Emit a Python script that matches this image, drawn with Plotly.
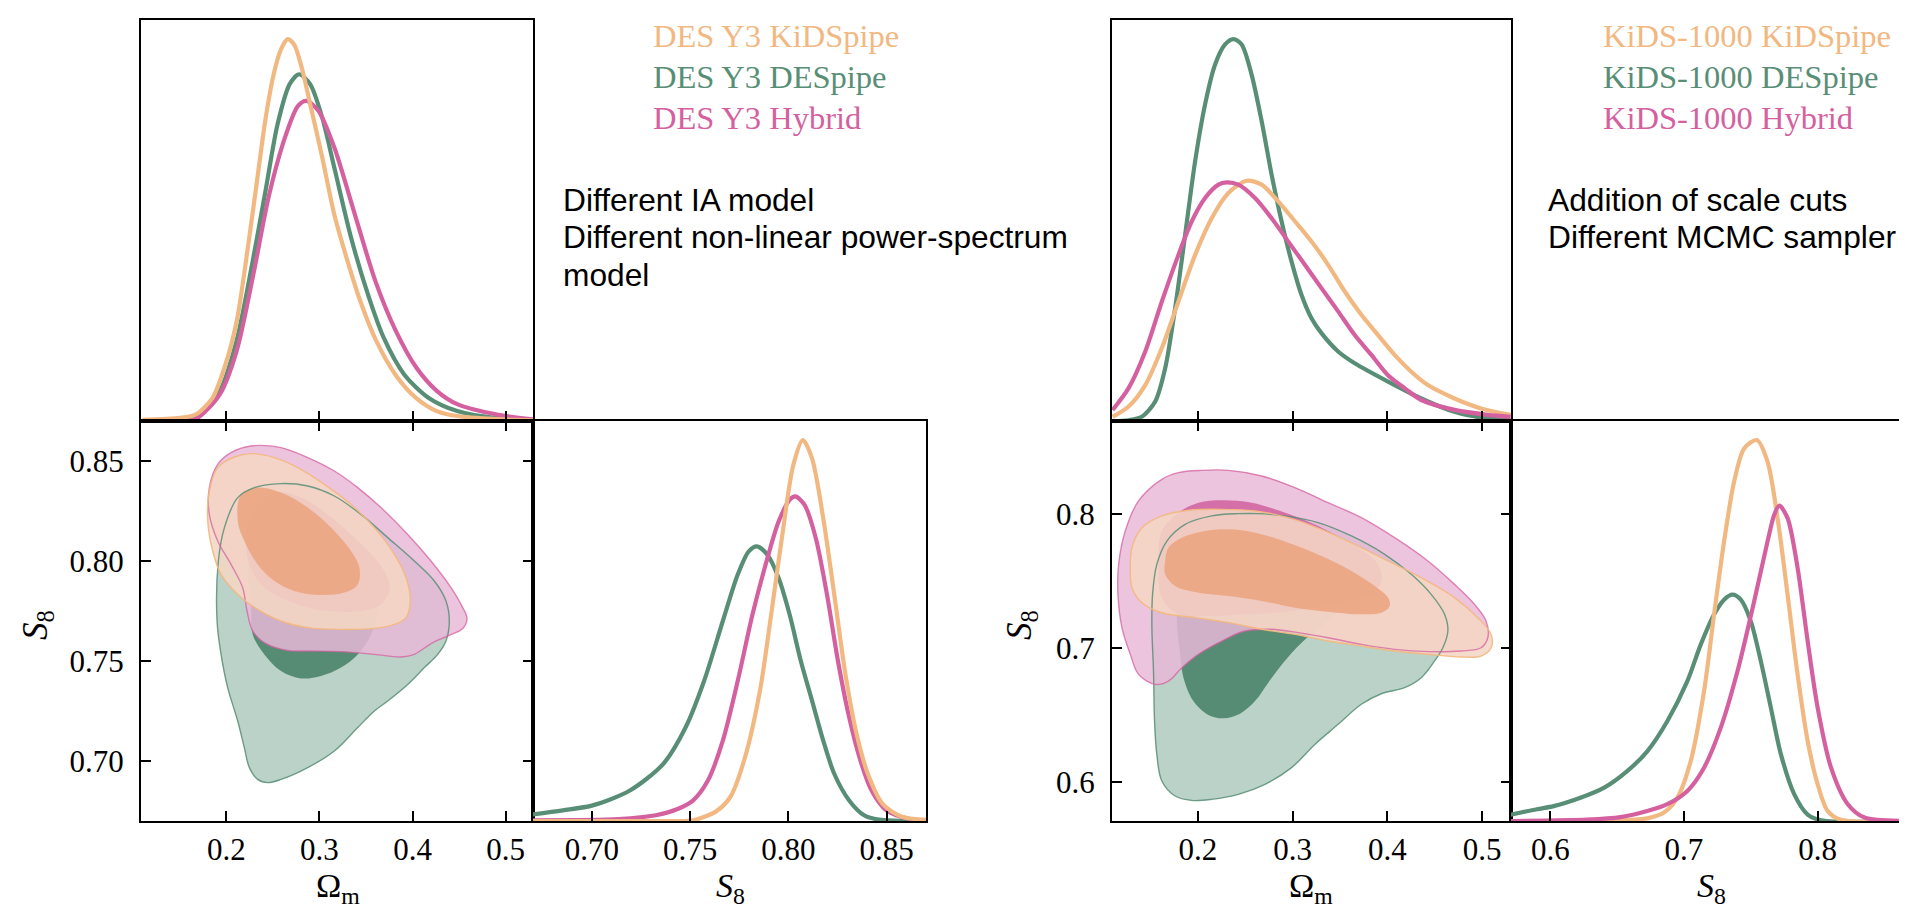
import plotly.graph_objects as go

# ---------------- DATA ----------------
# DES Y3 : 1D Omega_m posteriors (normalised heights)
des_om_kids_x = [0.110, 0.150, 0.167, 0.185, 0.198, 0.211, 0.224, 0.233, 0.242, 0.251, 0.259, 0.266, 0.273, 0.281, 0.290, 0.303, 0.316, 0.330, 0.343, 0.360, 0.382, 0.404, 0.426, 0.448, 0.492, 0.530]
des_om_kids_y = [0.003, 0.008, 0.017, 0.06, 0.14, 0.26, 0.47, 0.63, 0.79, 0.91, 0.975, 1.0, 0.985, 0.925, 0.83, 0.69, 0.54, 0.42, 0.32, 0.215, 0.12, 0.06, 0.026, 0.013, 0.005, 0.002]
des_om_des_x = [0.110, 0.150, 0.167, 0.193, 0.211, 0.229, 0.242, 0.255, 0.268, 0.278, 0.290, 0.303, 0.316, 0.334, 0.352, 0.369, 0.391, 0.417, 0.448, 0.492, 0.530]
des_om_des_y = [0.0, 0.002, 0.006, 0.079, 0.21, 0.428, 0.602, 0.777, 0.882, 0.908, 0.882, 0.794, 0.663, 0.48, 0.332, 0.218, 0.122, 0.061, 0.026, 0.007, 0.003]
des_om_hyb_x = [0.110, 0.150, 0.167, 0.193, 0.211, 0.229, 0.246, 0.264, 0.277, 0.286, 0.299, 0.316, 0.338, 0.360, 0.382, 0.404, 0.426, 0.448, 0.492, 0.530]
des_om_hyb_y = [0.0, 0.002, 0.005, 0.07, 0.183, 0.384, 0.593, 0.75, 0.825, 0.838, 0.812, 0.716, 0.541, 0.367, 0.236, 0.14, 0.079, 0.044, 0.016, 0.004]

# DES Y3 : 1D S8 posteriors
des_s8_kids_x = [0.670, 0.740, 0.7515, 0.7628, 0.7704, 0.7779, 0.7855, 0.7912, 0.7969, 0.8025, 0.8073, 0.812, 0.8177, 0.8233, 0.829, 0.8347, 0.8404, 0.8479, 0.8574, 0.870]
des_s8_kids_y = [0.0, 0.0, 0.002, 0.024, 0.063, 0.167, 0.342, 0.542, 0.752, 0.935, 1.0, 0.952, 0.795, 0.595, 0.385, 0.228, 0.124, 0.045, 0.012, 0.003]
des_s8_des_x = [0.6697, 0.6852, 0.7004, 0.7193, 0.7363, 0.7477, 0.7571, 0.7666, 0.7742, 0.7798, 0.784, 0.7893, 0.795, 0.8006, 0.8063, 0.812, 0.8177, 0.8233, 0.8309, 0.8385, 0.846, 0.870]
des_s8_des_y = [0.0174, 0.028, 0.041, 0.080, 0.150, 0.246, 0.368, 0.525, 0.647, 0.708, 0.721, 0.699, 0.638, 0.542, 0.420, 0.316, 0.211, 0.124, 0.054, 0.015, 0.0035, 0.0]
des_s8_hyb_x = [0.6697, 0.7136, 0.7325, 0.7439, 0.7515, 0.759, 0.7666, 0.7742, 0.7817, 0.7893, 0.795, 0.8006, 0.8035, 0.8082, 0.8139, 0.8196, 0.8252, 0.8309, 0.8366, 0.8423, 0.8498, 0.8612, 0.8703]
des_s8_hyb_y = [0.002, 0.005, 0.015, 0.032, 0.054, 0.106, 0.211, 0.368, 0.542, 0.690, 0.786, 0.843, 0.852, 0.830, 0.743, 0.595, 0.420, 0.272, 0.159, 0.080, 0.028, 0.006, 0.002]

# DES Y3 : 2D contours (Omega_m, S8), outer = 95%, inner = 68%
des_des_outer_om = [0.1900, 0.1914, 0.1979, 0.2122, 0.2301, 0.2587, 0.2874, 0.3160, 0.3446, 0.3733, 0.4019, 0.4234, 0.4359, 0.4395, 0.4359, 0.4270, 0.4127, 0.3948, 0.3733, 0.3590, 0.3411, 0.3160, 0.2874, 0.2587, 0.2444, 0.2337, 0.2247, 0.2193, 0.2122, 0.2014, 0.1943]
des_des_outer_s8 = [0.7700, 0.8000, 0.8167, 0.8317, 0.8367, 0.8387, 0.8375, 0.8325, 0.8233, 0.8117, 0.8000, 0.7900, 0.7800, 0.7700, 0.7600, 0.7533, 0.7467, 0.7383, 0.7300, 0.7250, 0.7167, 0.7050, 0.6967, 0.6908, 0.6892, 0.6908, 0.6967, 0.7067, 0.7200, 0.7367, 0.7533]
des_des_inner_om = [0.2229, 0.2265, 0.2283, 0.2408, 0.2587, 0.2802, 0.3017, 0.3232, 0.3411, 0.3554, 0.3626, 0.3590, 0.3446, 0.3232, 0.2945, 0.2659, 0.2408, 0.2265]
des_des_inner_s8 = [0.7950, 0.7767, 0.7633, 0.7533, 0.7450, 0.7413, 0.7425, 0.7467, 0.7533, 0.7633, 0.7767, 0.7917, 0.8050, 0.8167, 0.8250, 0.8283, 0.8250, 0.8133]
des_hyb_outer_om = [0.2265, 0.2587, 0.2874, 0.3160, 0.3411, 0.3661, 0.3948, 0.4198, 0.4413, 0.4539, 0.4585, 0.4539, 0.4377, 0.4198, 0.4019, 0.3876, 0.3590, 0.3232, 0.2874, 0.2659, 0.2426, 0.2283, 0.2222, 0.2175, 0.2050, 0.1907, 0.1817, 0.1817, 0.1907, 0.2050]
des_hyb_outer_s8 = [0.8575, 0.8567, 0.8517, 0.8450, 0.8367, 0.8267, 0.8133, 0.8000, 0.7867, 0.7767, 0.7713, 0.7663, 0.7625, 0.7587, 0.7533, 0.7520, 0.7533, 0.7547, 0.7550, 0.7553, 0.7587, 0.7650, 0.7750, 0.7867, 0.7983, 0.8100, 0.8233, 0.8367, 0.8483, 0.8542]
des_hyb_inner_om = [0.2211, 0.2265, 0.2516, 0.2802, 0.3088, 0.3375, 0.3590, 0.3733, 0.3751, 0.3661, 0.3446, 0.3160, 0.2874, 0.2587, 0.2372, 0.2247]
des_hyb_inner_s8 = [0.8100, 0.8233, 0.8342, 0.8317, 0.8233, 0.8117, 0.8017, 0.7917, 0.7850, 0.7783, 0.7750, 0.7747, 0.7767, 0.7817, 0.7883, 0.7983]
des_kids_outer_om = [0.1817, 0.1907, 0.2086, 0.2265, 0.2516, 0.2766, 0.3053, 0.3339, 0.3590, 0.3805, 0.3930, 0.3976, 0.3930, 0.3805, 0.3590, 0.3232, 0.2874, 0.2587, 0.2337, 0.2122, 0.1943, 0.1853, 0.1800]
des_kids_outer_s8 = [0.8350, 0.8467, 0.8520, 0.8537, 0.8517, 0.8467, 0.8383, 0.8283, 0.8167, 0.8033, 0.7917, 0.7800, 0.7717, 0.7683, 0.7663, 0.7658, 0.7667, 0.7700, 0.7758, 0.7833, 0.7933, 0.8050, 0.8200]
des_kids_inner_om = [0.2122, 0.2158, 0.2337, 0.2587, 0.2874, 0.3124, 0.3339, 0.3429, 0.3411, 0.3267, 0.3017, 0.2730, 0.2516, 0.2337, 0.2193]
des_kids_inner_s8 = [0.8200, 0.8333, 0.8367, 0.8342, 0.8267, 0.8167, 0.8050, 0.7967, 0.7883, 0.7842, 0.7830, 0.7850, 0.7900, 0.7983, 0.8100]

# KiDS-1000 : 1D Omega_m posteriors
kids_om_des_x = [0.1102, 0.127, 0.141, 0.1551, 0.1656, 0.1761, 0.1867, 0.1972, 0.2077, 0.2182, 0.2288, 0.2375, 0.2463, 0.2568, 0.2674, 0.2779, 0.2884, 0.2989, 0.3095, 0.32, 0.3305, 0.3481, 0.3656, 0.4007, 0.4358, 0.4709, 0.4989, 0.5302]
kids_om_des_y = [0.0, 0.002, 0.011, 0.051, 0.138, 0.295, 0.488, 0.68, 0.829, 0.933, 0.986, 1.0, 0.986, 0.907, 0.785, 0.645, 0.523, 0.418, 0.33, 0.269, 0.23, 0.182, 0.151, 0.103, 0.059, 0.024, 0.009, 0.002]
kids_om_hyb_x = [0.1102, 0.127, 0.1446, 0.1621, 0.1796, 0.1937, 0.2077, 0.2218, 0.2305, 0.2428, 0.2604, 0.2779, 0.2954, 0.313, 0.3305, 0.3481, 0.3656, 0.3832, 0.4007, 0.4182, 0.4358, 0.4709, 0.506, 0.5302]
kids_om_hyb_y = [0.029, 0.086, 0.182, 0.313, 0.435, 0.523, 0.584, 0.619, 0.625, 0.619, 0.584, 0.531, 0.470, 0.409, 0.348, 0.287, 0.225, 0.173, 0.120, 0.086, 0.055, 0.029, 0.016, 0.011]
kids_om_kids_x = [0.1102, 0.127, 0.1446, 0.1621, 0.1796, 0.1972, 0.2147, 0.2323, 0.2516, 0.2674, 0.2849, 0.3025, 0.32, 0.3375, 0.3551, 0.3726, 0.3902, 0.4077, 0.4253, 0.4428, 0.4709, 0.4989, 0.5302]
kids_om_kids_y = [0.011, 0.038, 0.094, 0.191, 0.313, 0.435, 0.531, 0.597, 0.629, 0.619, 0.575, 0.523, 0.470, 0.409, 0.339, 0.278, 0.225, 0.173, 0.129, 0.094, 0.059, 0.033, 0.016]

# KiDS-1000 : 1D S8 posteriors
kids_s8_kids_x = [0.5695, 0.6525, 0.6725, 0.685, 0.695, 0.705, 0.715, 0.7225, 0.73, 0.7375, 0.745, 0.7545, 0.7625, 0.77, 0.7775, 0.785, 0.7925, 0.80, 0.8075, 0.8175, 0.87]
kids_s8_kids_y = [0.0, 0.002, 0.007, 0.022, 0.061, 0.157, 0.341, 0.542, 0.734, 0.891, 0.978, 1.0, 0.943, 0.795, 0.594, 0.384, 0.210, 0.096, 0.026, 0.003, 0.0]
kids_s8_hyb_x = [0.5695, 0.6275, 0.6525, 0.6725, 0.6875, 0.7025, 0.715, 0.7275, 0.74, 0.7525, 0.7625, 0.7675, 0.7713, 0.7775, 0.785, 0.7925, 0.80, 0.81, 0.8225, 0.835, 0.87]
kids_s8_hyb_y = [0.0, 0.0035, 0.010, 0.026, 0.044, 0.079, 0.140, 0.245, 0.393, 0.577, 0.734, 0.804, 0.828, 0.795, 0.664, 0.472, 0.297, 0.140, 0.044, 0.009, 0.0]
kids_s8_des_x = [0.5695, 0.59, 0.6025, 0.6225, 0.64, 0.6575, 0.6725, 0.6875, 0.7025, 0.7125, 0.7225, 0.73, 0.7363, 0.7425, 0.75, 0.7575, 0.765, 0.7725, 0.7825, 0.7925, 0.8025, 0.87]
kids_s8_des_y = [0.016, 0.031, 0.039, 0.061, 0.087, 0.131, 0.183, 0.262, 0.367, 0.463, 0.542, 0.581, 0.594, 0.581, 0.524, 0.419, 0.297, 0.175, 0.070, 0.017, 0.002, 0.0]

# KiDS-1000 : 2D contours
kids_des_outer_om = [0.2147, 0.2428, 0.2639, 0.2919, 0.3270, 0.3621, 0.3972, 0.4253, 0.4463, 0.4604, 0.4639, 0.4586, 0.4498, 0.4358, 0.4182, 0.3937, 0.3726, 0.3481, 0.3235, 0.2989, 0.2709, 0.2428, 0.2147, 0.1937, 0.1761, 0.1621, 0.1568, 0.1544, 0.1533, 0.1516, 0.1523, 0.1568, 0.1674, 0.1867]
kids_des_outer_s8 = [0.7988, 0.8005, 0.8005, 0.7988, 0.7938, 0.7838, 0.7701, 0.7551, 0.7401, 0.7252, 0.7127, 0.7002, 0.6903, 0.6778, 0.6703, 0.6658, 0.6579, 0.6429, 0.6279, 0.6105, 0.5980, 0.5905, 0.5868, 0.5860, 0.5893, 0.6005, 0.6204, 0.6454, 0.6828, 0.7152, 0.7401, 0.7626, 0.7800, 0.7925]
kids_des_inner_om = [0.1779, 0.1814, 0.1849, 0.1954, 0.2112, 0.2270, 0.2446, 0.2604, 0.2744, 0.2902, 0.3095, 0.3305, 0.3481, 0.3551, 0.3481, 0.3270, 0.2919, 0.2498, 0.2147, 0.1902, 0.1796]
kids_des_inner_s8 = [0.7202, 0.6953, 0.6778, 0.6603, 0.6499, 0.6474, 0.6509, 0.6603, 0.6741, 0.6890, 0.7040, 0.7165, 0.7277, 0.7426, 0.7576, 0.7701, 0.7776, 0.7788, 0.7751, 0.7626, 0.7426]
kids_hyb_outer_om = [0.2042, 0.2323, 0.2674, 0.3025, 0.3375, 0.3726, 0.4077, 0.4428, 0.4709, 0.4919, 0.5042, 0.5060, 0.4989, 0.4779, 0.4428, 0.4077, 0.3726, 0.3375, 0.3060, 0.2779, 0.2498, 0.2253, 0.2007, 0.1832, 0.1691, 0.1551, 0.1375, 0.1288, 0.1200, 0.1158, 0.1165, 0.1235, 0.1375, 0.1621, 0.1796]
kids_hyb_outer_s8 = [0.8329, 0.8329, 0.8287, 0.8200, 0.8087, 0.7975, 0.7825, 0.7651, 0.7476, 0.7327, 0.7202, 0.7077, 0.7002, 0.6978, 0.6973, 0.6990, 0.7027, 0.7077, 0.7115, 0.7140, 0.7127, 0.7052, 0.6953, 0.6853, 0.6753, 0.6728, 0.6803, 0.6953, 0.7152, 0.7401, 0.7626, 0.7875, 0.8100, 0.8262, 0.8312]
kids_hyb_inner_om = [0.1586, 0.1621, 0.1796, 0.2007, 0.2253, 0.2568, 0.2849, 0.3130, 0.3411, 0.3691, 0.3902, 0.3937, 0.3832, 0.3551, 0.3200, 0.2849, 0.2498, 0.2147, 0.1796, 0.1621]
kids_hyb_inner_s8 = [0.7651, 0.7875, 0.8012, 0.8087, 0.8105, 0.8087, 0.8030, 0.7955, 0.7863, 0.7751, 0.7626, 0.7501, 0.7401, 0.7352, 0.7302, 0.7264, 0.7252, 0.7239, 0.7252, 0.7377]
kids_kids_outer_om = [0.1288, 0.1305, 0.1411, 0.1621, 0.1902, 0.2253, 0.2604, 0.2954, 0.3305, 0.3656, 0.4007, 0.4358, 0.4709, 0.4954, 0.5095, 0.5095, 0.4989, 0.4779, 0.4428, 0.4077, 0.3726, 0.3375, 0.3025, 0.2674, 0.2323, 0.1972, 0.1621, 0.1411, 0.1305]
kids_kids_outer_s8 = [0.7601, 0.7751, 0.7900, 0.7988, 0.8030, 0.8037, 0.8025, 0.7975, 0.7888, 0.7776, 0.7651, 0.7526, 0.7377, 0.7227, 0.7102, 0.7002, 0.6940, 0.6933, 0.6953, 0.6978, 0.7015, 0.7052, 0.7102, 0.7140, 0.7190, 0.7227, 0.7264, 0.7339, 0.7451]
kids_kids_inner_om = [0.1656, 0.1691, 0.1832, 0.2077, 0.2323, 0.2604, 0.2954, 0.3305, 0.3621, 0.3867, 0.4007, 0.4025, 0.3937, 0.3726, 0.3375, 0.3025, 0.2674, 0.2323, 0.2007, 0.1761, 0.1656]
kids_kids_inner_s8 = [0.7651, 0.7751, 0.7825, 0.7875, 0.7888, 0.7863, 0.7788, 0.7688, 0.7576, 0.7464, 0.7377, 0.7314, 0.7264, 0.7252, 0.7272, 0.7302, 0.7352, 0.7389, 0.7414, 0.7464, 0.7551]

# axis ranges and ticks
om_range_des = [0.1083, 0.5294]
s8_range_des = [0.670, 0.870]
om_range_kids = [0.1095, 0.5305]
s8_range_kids = [0.5706, 0.8698]
om_ticks = [0.2, 0.3, 0.4, 0.5]
om_ticktext = ["0.2", "0.3", "0.4", "0.5"]
s8_ticks_des = [0.70, 0.75, 0.80, 0.85]
s8_ticktext_des = ["0.70", "0.75", "0.80", "0.85"]
s8_ticks_kids = [0.6, 0.7, 0.8]
s8_ticktext_kids = ["0.6", "0.7", "0.8"]
pdf_range = [0, 1.05]

labels_des = ["DES Y3 KiDSpipe", "DES Y3 DESpipe", "DES Y3 Hybrid"]
labels_kids = ["KiDS-1000 KiDSpipe", "KiDS-1000 DESpipe", "KiDS-1000 Hybrid"]
notes_des = ["Different IA model", "Different non-linear power-spectrum", "model"]
notes_kids = ["Addition of scale cuts", "Different MCMC sampler"]

# ---------------- STYLE ----------------
C_KIDS = "rgb(242,184,130)"
C_DES = "rgb(88,142,118)"
C_HYB = "rgb(213,96,160)"
FILL = {
    "des_outer": "rgba(88,146,120,0.41)",
    "des_inner": "rgba(87,140,116,1.0)",
    "hyb_outer": "rgba(232,185,216,0.84)",
    "hyb_inner": "rgba(210,102,162,0.90)",
    "kids_outer": "rgba(244,214,196,0.88)",
    "kids_inner": "rgba(235,165,130,0.90)",
}
EDGE = {
    "des": "rgba(88,142,118,0.85)",
    "hyb": "rgba(213,96,160,0.75)",
    "kids": "rgba(242,184,130,0.95)",
}

W, H = 1907, 907
def fx(p):
    return p / W
def fy(p):
    return 1 - p / H

# panel pixel edges
LX = [133, 525, 918]
RX = [1104, 1503, 1903]
YT, YM, YB = 12, 413, 813

fig = go.Figure()

def line1d(x, y, color, xa, ya):
    fig.add_trace(go.Scatter(x=x, y=y, mode="lines", xaxis=xa, yaxis=ya,
                             line=dict(color=color, width=4.2, shape="spline", smoothing=0.8),
                             hoverinfo="skip", showlegend=False))

def closed(a):
    return list(a) + [a[0]]

def fill2d(x, y, color, xa, ya):
    fig.add_trace(go.Scatter(x=closed(x), y=closed(y), mode="lines", fill="toself",
                             fillcolor=color, xaxis=xa, yaxis=ya,
                             line=dict(width=0, shape="spline", smoothing=1.0, color=color),
                             hoverinfo="skip", showlegend=False))

def edge2d(x, y, color, xa, ya):
    fig.add_trace(go.Scatter(x=closed(x), y=closed(y), mode="lines", xaxis=xa, yaxis=ya,
                             line=dict(width=1.4, shape="spline", smoothing=1.0, color=color),
                             hoverinfo="skip", showlegend=False))

# ----- DES Y3 triangle -----
line1d(des_om_des_x, des_om_des_y, C_DES, "x", "y")
line1d(des_om_hyb_x, des_om_hyb_y, C_HYB, "x", "y")
line1d(des_om_kids_x, des_om_kids_y, C_KIDS, "x", "y")

fill2d(des_des_outer_om, des_des_outer_s8, FILL["des_outer"], "x2", "y2")
fill2d(des_des_inner_om, des_des_inner_s8, FILL["des_inner"], "x2", "y2")
fill2d(des_hyb_outer_om, des_hyb_outer_s8, FILL["hyb_outer"], "x2", "y2")
fill2d(des_hyb_inner_om, des_hyb_inner_s8, FILL["hyb_inner"], "x2", "y2")
fill2d(des_kids_outer_om, des_kids_outer_s8, FILL["kids_outer"], "x2", "y2")
fill2d(des_kids_inner_om, des_kids_inner_s8, FILL["kids_inner"], "x2", "y2")
edge2d(des_des_outer_om, des_des_outer_s8, EDGE["des"], "x2", "y2")
edge2d(des_hyb_outer_om, des_hyb_outer_s8, EDGE["hyb"], "x2", "y2")
edge2d(des_kids_outer_om, des_kids_outer_s8, EDGE["kids"], "x2", "y2")

line1d(des_s8_des_x, des_s8_des_y, C_DES, "x3", "y3")
line1d(des_s8_hyb_x, des_s8_hyb_y, C_HYB, "x3", "y3")
line1d(des_s8_kids_x, des_s8_kids_y, C_KIDS, "x3", "y3")

# ----- KiDS-1000 triangle -----
line1d(kids_om_des_x, kids_om_des_y, C_DES, "x4", "y4")
line1d(kids_om_kids_x, kids_om_kids_y, C_KIDS, "x4", "y4")
line1d(kids_om_hyb_x, kids_om_hyb_y, C_HYB, "x4", "y4")

fill2d(kids_des_outer_om, kids_des_outer_s8, FILL["des_outer"], "x5", "y5")
fill2d(kids_des_inner_om, kids_des_inner_s8, FILL["des_inner"], "x5", "y5")
fill2d(kids_hyb_outer_om, kids_hyb_outer_s8, FILL["hyb_outer"], "x5", "y5")
fill2d(kids_hyb_inner_om, kids_hyb_inner_s8, FILL["hyb_inner"], "x5", "y5")
fill2d(kids_kids_outer_om, kids_kids_outer_s8, FILL["kids_outer"], "x5", "y5")
fill2d(kids_kids_inner_om, kids_kids_inner_s8, FILL["kids_inner"], "x5", "y5")
edge2d(kids_des_outer_om, kids_des_outer_s8, EDGE["des"], "x5", "y5")
edge2d(kids_hyb_outer_om, kids_hyb_outer_s8, EDGE["hyb"], "x5", "y5")
edge2d(kids_kids_outer_om, kids_kids_outer_s8, EDGE["kids"], "x5", "y5")

line1d(kids_s8_des_x, kids_s8_des_y, C_DES, "x6", "y6")
line1d(kids_s8_kids_x, kids_s8_kids_y, C_KIDS, "x6", "y6")
line1d(kids_s8_hyb_x, kids_s8_hyb_y, C_HYB, "x6", "y6")

# ---------------- AXES ----------------
TICKFONT = dict(family="Liberation Serif", size=31, color="black")

def axis(domain, rng, anchor, tickvals=None, ticktext=None, labels=False, ticks="", mirror=True, standoff=0):
    d = dict(domain=domain, range=rng, anchor=anchor, showline=True, linecolor="black", linewidth=2,
             mirror=mirror, showgrid=False, zeroline=False, ticks=ticks, ticklen=10, tickwidth=2,
             tickcolor="black", showticklabels=labels, tickfont=TICKFONT, fixedrange=True)
    if tickvals is not None:
        d["tickmode"] = "array"
        d["tickvals"] = tickvals
        if labels:
            d["ticktext"] = ticktext
    else:
        d["tickmode"] = "array"
        d["tickvals"] = []
    if labels:
        d["ticklabelstandoff"] = standoff
    return d

top_dom = [fy(YM), fy(YT)]
bot_dom = [fy(YB), fy(YM)]
L1 = [fx(LX[0]), fx(LX[1])]
L2 = [fx(LX[1]), fx(LX[2])]
R1 = [fx(RX[0]), fx(RX[1])]
R2 = [fx(RX[1]), fx(RX[2])]

layout_axes = dict(
    xaxis=axis(L1, om_range_des, "y", om_ticks, None, False, "inside", True),
    yaxis=axis(top_dom, pdf_range, "x"),
    xaxis2=axis(L1, om_range_des, "y2", om_ticks, om_ticktext, True, "inside", "ticks", 0),
    yaxis2=axis(bot_dom, s8_range_des, "x2", s8_ticks_des, s8_ticktext_des, True, "inside", "ticks", 9),
    xaxis3=axis(L2, s8_range_des, "y3", s8_ticks_des, s8_ticktext_des, True, "inside", True, 0),
    yaxis3=axis(bot_dom, pdf_range, "x3"),
    xaxis4=axis(R1, om_range_kids, "y4", om_ticks, None, False, "inside", True),
    yaxis4=axis(top_dom, pdf_range, "x4"),
    xaxis5=axis(R1, om_range_kids, "y5", om_ticks, om_ticktext, True, "inside", "ticks", 0),
    yaxis5=axis(bot_dom, s8_range_kids, "x5", s8_ticks_kids, s8_ticktext_kids, True, "inside", "ticks", 9),
    xaxis6=axis(R2, s8_range_kids, "y6", s8_ticks_kids, s8_ticktext_kids, True, "inside", True, 0),
    yaxis6=axis(bot_dom, pdf_range, "x6"),
)

# ---------------- TEXT ----------------
ann = []
def text(t, x, y, size, family, color, xanchor="left", angle=0):
    ann.append(dict(text=t, x=fx(x), y=fy(y), xref="paper", yref="paper", showarrow=False,
                    xanchor=xanchor, yanchor="middle", textangle=angle,
                    font=dict(family=family, size=size, color=color)))

leg_colors = [C_KIDS, C_DES, C_HYB]
leg_y = [28, 69, 110]
for lab, col, yy in zip(labels_des, leg_colors, leg_y):
    text(lab, 643, yy, 32.5, "Liberation Serif", col)
for lab, col, yy in zip(labels_kids, leg_colors, leg_y):
    text(lab, 1593, yy, 32.5, "Liberation Serif", col)

note_y = [192, 229, 267]
for t, yy in zip(notes_des, note_y):
    text(t, 553, yy, 31.7, "Liberation Sans", "black")
for t, yy in zip(notes_kids, note_y):
    text(t, 1538, yy, 31.7, "Liberation Sans", "black")

AXF = "Liberation Serif"
text("Ω<sub>m</sub>", 330, 880, 34, AXF, "black", "center")
text("<i>S</i><sub>8</sub>", 722, 880, 34, AXF, "black", "center")
text("Ω<sub>m</sub>", 1303, 880, 34, AXF, "black", "center")
text("<i>S</i><sub>8</sub>", 1703, 880, 34, AXF, "black", "center")
text("<i>S</i><sub>8</sub>", 29, 617, 35, AXF, "black", "center", -90)
text("<i>S</i><sub>8</sub>", 1013, 617, 35, AXF, "black", "center", -90)

fig.update_layout(
    width=W, height=H, margin=dict(l=0, r=0, t=0, b=0),
    paper_bgcolor="white", plot_bgcolor="rgba(0,0,0,0)",
    showlegend=False, hovermode=False, annotations=ann,
    **layout_axes,
)

fig.write_html("out.html")
